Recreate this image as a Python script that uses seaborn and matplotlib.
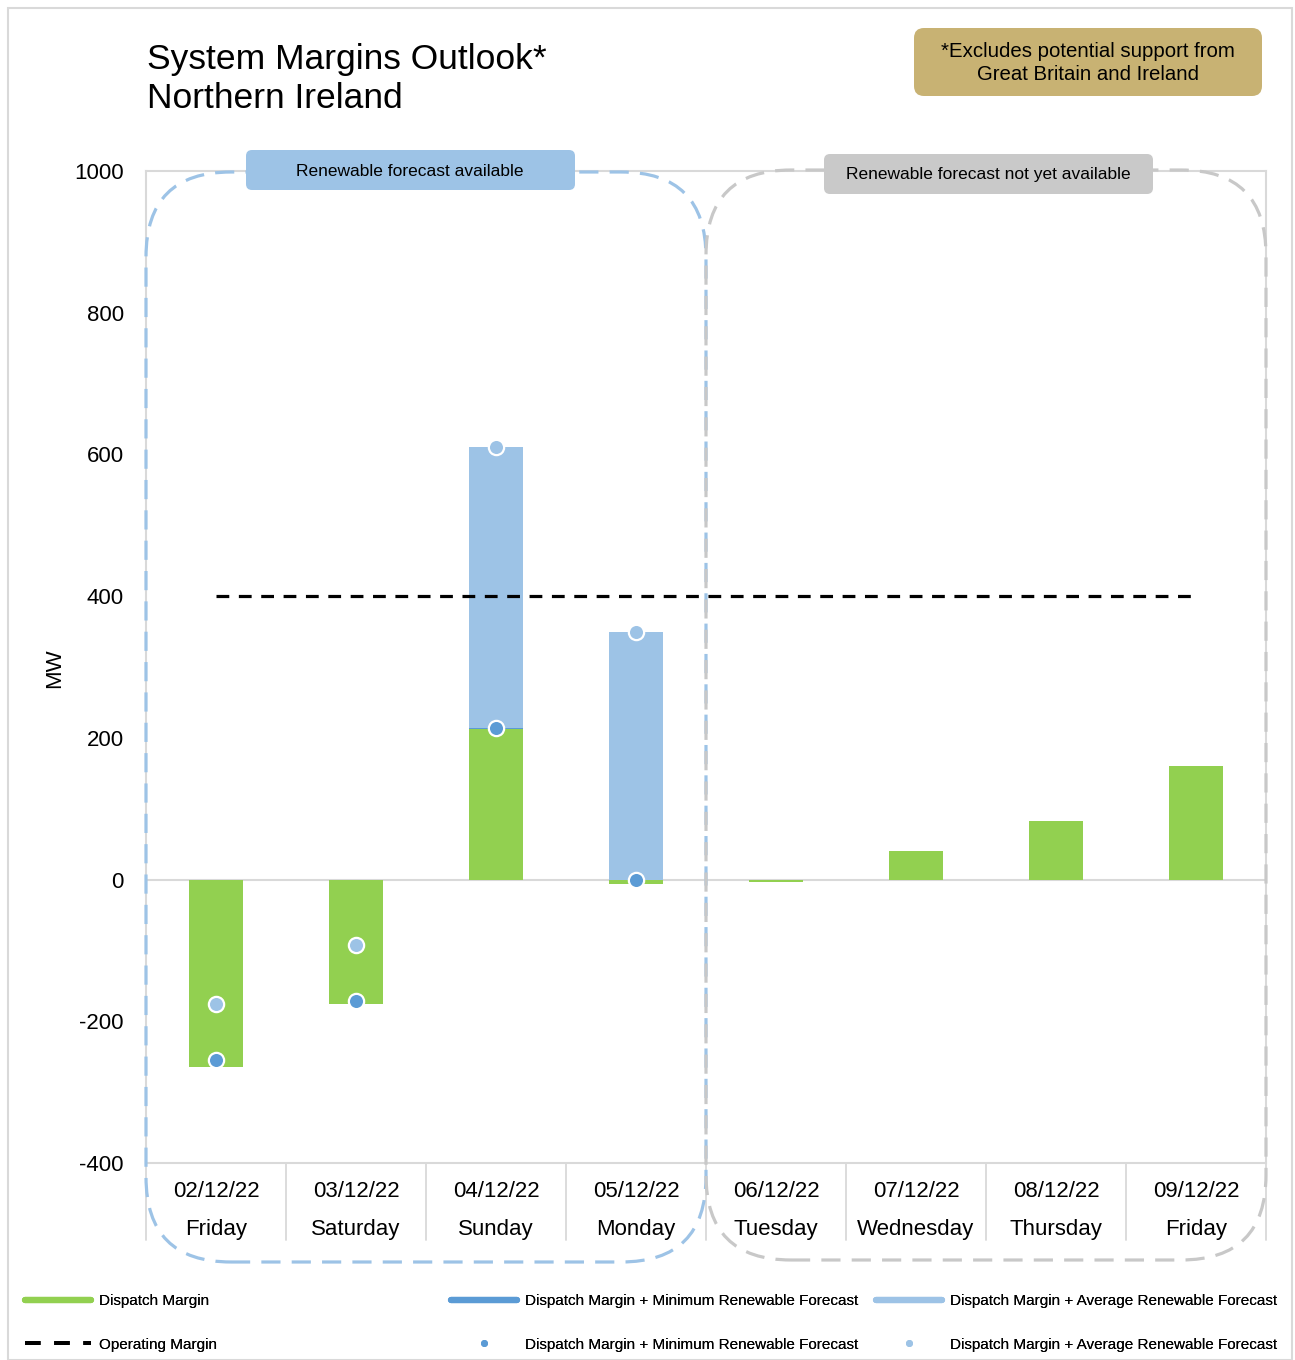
import numpy as np
import pandas as pd
import matplotlib
matplotlib.use("Agg")
import matplotlib.pyplot as plt
import seaborn as sns
from matplotlib.patches import FancyBboxPatch, Rectangle
from matplotlib.lines import Line2D
from matplotlib.transforms import IdentityTransform

# --- data ---
dates = ["02/12/22", "03/12/22", "04/12/22", "05/12/22",
         "06/12/22", "07/12/22", "08/12/22", "09/12/22"]
days = ["Friday", "Saturday", "Sunday", "Monday",
        "Tuesday", "Wednesday", "Thursday", "Friday"]
dispatch_margin = [-265, -176, 213, -6, -4, 40, 83, 160]
min_renewable = [-254, -172, 214, 0, np.nan, np.nan, np.nan, np.nan]
avg_renewable = [-175, -93, 611, 349, np.nan, np.nan, np.nan, np.nan]
operating_margin = [400] * 8
yticks = [-400, -200, 0, 200, 400, 600, 800, 1000]

GREEN = "#92D050"
DARK = "#5B9BD5"
LIGHT = "#9DC3E6"
GREYLINE = "#D9D9D9"
GREYDASH = "#C8C8C8"
GOLD = "#C8B273"

W, H = 1295, 1360

sns.set_theme(style="white")
plt.rcParams["font.family"] = ["Liberation Sans", "DejaVu Sans"]
plt.rcParams["text.color"] = "black"


def fx(x):
    return x / W


def fy(y):
    return 1 - y / H


fig = plt.figure(figsize=(W / 100, H / 100), dpi=100)
ax = fig.add_axes([fx(146), fy(1163), fx(1266) - fx(146), fy(171) - fy(1163)])

df = pd.DataFrame({"date": dates, "dispatch": dispatch_margin,
                   "min": min_renewable, "avg": avg_renewable})

ax.axhline(0, color=GREYLINE, lw=1.5, zorder=0)
sns.barplot(data=df, x="date", y="avg", order=dates, color=LIGHT, saturation=1,
            width=0.386, linewidth=0, ax=ax, zorder=2)
sns.barplot(data=df, x="date", y="min", order=dates, color=DARK, saturation=1,
            width=0.386, linewidth=0, ax=ax, zorder=2)
sns.barplot(data=df, x="date", y="dispatch", order=dates, color=GREEN, saturation=1,
            width=0.386, linewidth=0, ax=ax, zorder=2)
ax.plot(np.arange(len(dates)), operating_margin, color="black", lw=2.3,
        dashes=(4, 3), zorder=3)
sns.stripplot(data=df, x="date", y="avg", order=dates, color=LIGHT, jitter=False,
              size=11, edgecolor="white", linewidth=1.6, ax=ax, zorder=4)
sns.stripplot(data=df, x="date", y="min", order=dates, color=DARK, jitter=False,
              size=11, edgecolor="white", linewidth=1.6, ax=ax, zorder=4)

ax.set_xlim(-0.5, len(dates) - 0.5)
ax.set_ylim(-400, 1000)
ax.set_yticks(yticks)
ax.set_yticklabels([str(v) for v in yticks], fontsize=16)
ax.set_xticks(range(len(dates)))
ax.set_xticklabels([f"{d}\n{n}" for d, n in zip(dates, days)],
                   fontsize=16, linespacing=2.05)
ax.tick_params(axis="both", length=0, colors="black")
ax.tick_params(axis="x", pad=13)
ax.tick_params(axis="y", pad=16)
ax.set_xlabel("")
ax.set_ylabel("")
for s in ax.spines.values():
    s.set_color(GREYLINE)
    s.set_linewidth(1.5)

# category separators under the axis
for i in range(len(dates) + 1):
    xs = fx(146 + i * 140)
    fig.add_artist(Line2D([xs, xs], [fy(1163), fy(1240)], color=GREYLINE, lw=1.3))

fig.text(fx(55), fy(668), "MW", rotation=90, ha="center", va="center", fontsize=16)

# title and note
fig.text(fx(147), fy(43), "System Margins Outlook*\nNorthern Ireland",
         ha="left", va="top", fontsize=25.5, linespacing=1.25)


def box(x0, y0, x1, y1, r, **kw):
    p = FancyBboxPatch((x0, H - y1), x1 - x0, y1 - y0,
                       boxstyle=f"round,pad=0,rounding_size={r}",
                       transform=IdentityTransform(), **kw)
    fig.add_artist(p)
    return p


box(914, 28, 1262, 96, 10, facecolor=GOLD, edgecolor="none")
fig.text(fx(1088), fy(63), "*Excludes potential support from\nGreat Britain and Ireland",
         ha="center", va="center", fontsize=14.7, linespacing=1.3)

# dashed region outlines
box(146, 172, 706, 1262, 85, facecolor="none", edgecolor=LIGHT, lw=2.3,
    linestyle=(0, (6, 3.5)), zorder=5)
box(706, 170, 1266, 1260, 85, facecolor="none", edgecolor=GREYDASH, lw=2.3,
    linestyle=(0, (6, 3.5)), zorder=5)

box(246, 150, 575, 190, 6, facecolor=LIGHT, edgecolor="none", zorder=6)
fig.text(fx(410), fy(171), "Renewable forecast available", ha="center", va="center",
         fontsize=12.5, zorder=7)
box(824, 154, 1153, 194, 6, facecolor="#C9C9C9", edgecolor="none", zorder=6)
fig.text(fx(988), fy(175), "Renewable forecast not yet available", ha="center",
         va="center", fontsize=12.5, zorder=7)

# outer frame
fig.add_artist(Rectangle((8, 0), 1284, H - 8, transform=IdentityTransform(),
                         facecolor="none", edgecolor=GREYLINE, lw=1.5))

# legend, three columns
leg_font = {"family": ["Liberation Sans"], "size": 11}
cols = [
    (25, [Line2D([], [], color=GREEN, lw=4.5),
          Line2D([], [], color="black", lw=2.8, dashes=(4, 3.5))],
     ["Dispatch Margin", "Operating Margin"]),
    (451, [Line2D([], [], color=DARK, lw=4.5),
           Line2D([], [], color=DARK, ls="none", marker="o", markersize=4)],
     ["Dispatch Margin + Minimum Renewable Forecast",
      "Dispatch Margin + Minimum Renewable Forecast"]),
    (876, [Line2D([], [], color=LIGHT, lw=4.5),
           Line2D([], [], color=LIGHT, ls="none", marker="o", markersize=4)],
     ["Dispatch Margin + Average Renewable Forecast",
      "Dispatch Margin + Average Renewable Forecast"]),
]
for x0, handles, labels in cols:
    leg = fig.legend(handles, labels, loc="upper left",
                     bbox_to_anchor=(fx(x0), fy(1294)), frameon=False,
                     borderpad=0, borderaxespad=0, handlelength=4.3,
                     handletextpad=0.55, labelspacing=1.95, prop=leg_font)
    fig.add_artist(leg)

fig.savefig("out.png", dpi=100)
